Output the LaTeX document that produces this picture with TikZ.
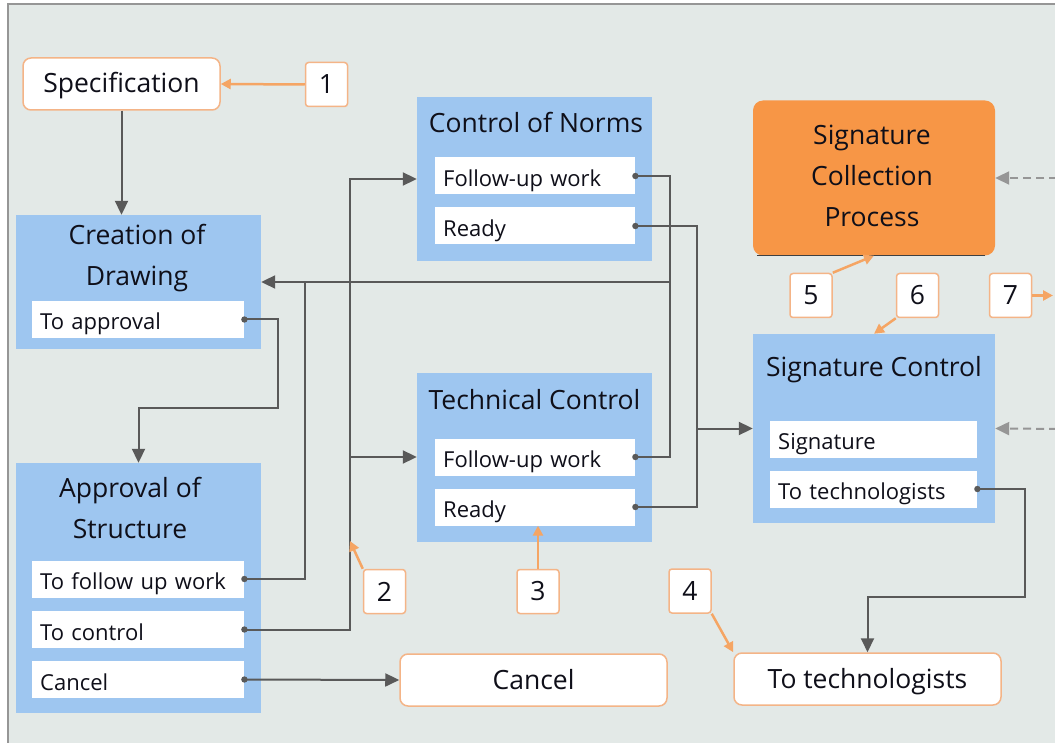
\documentclass[tikz,border=0pt]{standalone}
\usepackage{fontspec}
\setmainfont{Open Sans}
\usetikzlibrary{arrows.meta}
\definecolor{bgc}{RGB}{227,233,231}
\definecolor{framec}{RGB}{150,150,150}
\definecolor{stageblue}{RGB}{158,198,240}
\definecolor{orangefill}{RGB}{247,150,70}
\definecolor{tagline}{RGB}{244,180,135}
\definecolor{hintc}{RGB}{245,165,100}
\definecolor{linec}{RGB}{89,89,89}
\definecolor{dashc}{RGB}{150,150,150}
\definecolor{ink}{RGB}{15,15,25}
\newcommand\bigfont{\fontsize{26.5}{41}\selectfont}
\newcommand\optfont{\fontsize{22}{26}\selectfont}
\begin{document}
\begin{tikzpicture}[x=1pt,y=-1pt,
  stagebox/.style={fill=stageblue, inner sep=0pt},
  stagetitle/.style={font=\bigfont, align=center, text=ink, inner sep=0pt},
  optbox/.style={fill=white, inner xsep=8pt, inner ysep=0pt, minimum height=37pt, text height=21pt, text depth=0pt, font=\optfont, align=left, anchor=west, text=ink},
  endbox/.style={draw=tagline, line width=1.5pt, fill=white, rounded corners=8pt, minimum height=52pt, text height=21pt, text depth=3pt, font=\bigfont, text=ink},
  tagbox/.style={draw=tagline, line width=1.5pt, fill=white, rounded corners=3pt, minimum width=42pt, minimum height=44pt, inner sep=0pt, font=\bigfont, text=ink},
  flow/.style={draw=linec, line width=2pt, -{Triangle[length=14pt,width=13pt]}},
  wire/.style={draw=linec, line width=2pt},
  hintarrow/.style={draw=hintc, line width=2.5pt, -{Triangle[length=10pt,width=10pt]}},
  backflow/.style={draw=dashc, line width=2pt, dash pattern=on 8pt off 5pt, -{Triangle[length=14pt,width=13pt]}}
]
  \useasboundingbox (0,0) rectangle (1055,743);
  \clip (0,0) rectangle (1055,743);
  \fill[white] (0,0) rectangle (1055,743);
  \draw[framec, line width=1.2pt, fill=bgc] (8,4) rectangle (1075,760);

  % stages
  \node[endbox, minimum width=197pt] (spec) at (121.5,84) {Specification};
  \node[stagebox, minimum width=245pt, minimum height=134pt] (creation) at (138.5,282) {};
  \node[stagetitle] (creationt) at (137,258) {Creation of\\Drawing};
  \node[stagebox, minimum width=245pt, minimum height=250pt] (approval) at (138.5,588) {};
  \node[stagetitle] (approvalt) at (130,507.5) {Approval of\\Structure};
  \node[stagebox, minimum width=235pt, minimum height=164pt] (norms) at (534.5,179) {};
  \node[stagetitle] (normst) at (536,122) {Control of Norms};
  \node[stagebox, minimum width=235pt, minimum height=169pt] (tech) at (534.5,457) {};
  \node[stagetitle] (techt) at (534.5,400) {Technical Control};
  \node[fill=orangefill, rounded corners=10pt, minimum width=242pt, minimum height=155pt, inner sep=0pt] (collect) at (874,178) {};
  \draw[black!75, line width=1.5pt] ([xshift=4pt]collect.south west) -- ([xshift=-10pt]collect.south east);
  \node[stagetitle] (collectt) at (872,175.5) {Signature\\Collection\\Process};
  \node[stagebox, minimum width=242pt, minimum height=189pt] (sigctl) at (874,428.5) {};
  \node[stagetitle] (sigctlt) at (874,369.5) {Signature Control};
  \node[endbox, minimum width=267pt] (cancel) at (533.5,680) {Cancel};
  \node[endbox, minimum width=267pt] (techout) at (867.5,679) {To technologists};

  % options
  \foreach \nm/\x/\y/\w/\t in {toappr/32/319.5/196/To approval, tofollow/32/579/196/To follow up work,
    toctrl/32/629.5/196/To control, tocancel/32/679.5/196/Cancel,
    nfollow/435/176/184/Follow-up work, nready/435/226/184/Ready,
    tfollow/435/457/184/Follow-up work, tready/435/507/184/Ready,
    sig/770/439/191/Signature, totech/770/489/191/To technologists}
    \node[optbox, text width=\w pt] (\nm) at (\x,\y) {\t};

  % numbers
  \foreach \n/\x/\y in {1/326.5/84.5, 2/384.5/591.5, 3/538/591.5, 4/690/591, 5/811/295.5, 6/917.5/295.5, 7/1010.5/295.5}
    \node[tagbox] (tag\n) at (\x,\y) {\n};

  % connectors
  \draw[flow] (spec.south) -- (spec.south |- creation.north);
  \draw[flow] (toappr.east) -| (278,408) -| (approval.north);
  \draw[wire] (tofollow.east) -| (305,282);
  \draw[wire] (nfollow.east) -| (670,457) -- (tfollow.east);
  \draw[flow] (670,282) -- (creation.east);
  \draw[flow] (toctrl.east) -| (350,179) -- (norms.west);
  \draw[flow] (350,457) -- (tech.west);
  \draw[flow] (tocancel.east) -- (cancel.west);
  \draw[wire] (nready.east) -| (697,507) -- (tready.east);
  \draw[flow] (697,428.5) -- (sigctl.west);
  \draw[flow] (totech.east) -| (1025,597) -| (techout.north);
  \foreach \s in {toappr,tofollow,toctrl,tocancel,nfollow,nready,tfollow,tready,totech}
    \fill[linec] (\s.east) circle (3.2);

  \coordinate (offcollect) at (1070,178);
  \coordinate (offsig) at (1070,429);
  \draw[backflow] (offcollect) -- (collect.east);
  \draw[backflow] (offsig) -- (sigctl.east);

  % number pointers
  \coordinate (ctrlpin) at (350,541);
  \coordinate (outpin) at (1053,295.5);
  \draw[hintarrow] (tag1.west) -- (spec.east);
  \draw[hintarrow] (tag2.north west) -- (ctrlpin);
  \draw[hintarrow] (tag3.north) -- (tag3.north |- tready.south);
  \draw[hintarrow] (tag4.south east) -- (techout.north west);
  \draw[hintarrow] (tag5.north east) -- (collect.south);
  \draw[hintarrow] (tag6.south west) -- (sigctl.north);
  \draw[hintarrow] (tag7.east) -- (outpin);
\end{tikzpicture}
\end{document}
